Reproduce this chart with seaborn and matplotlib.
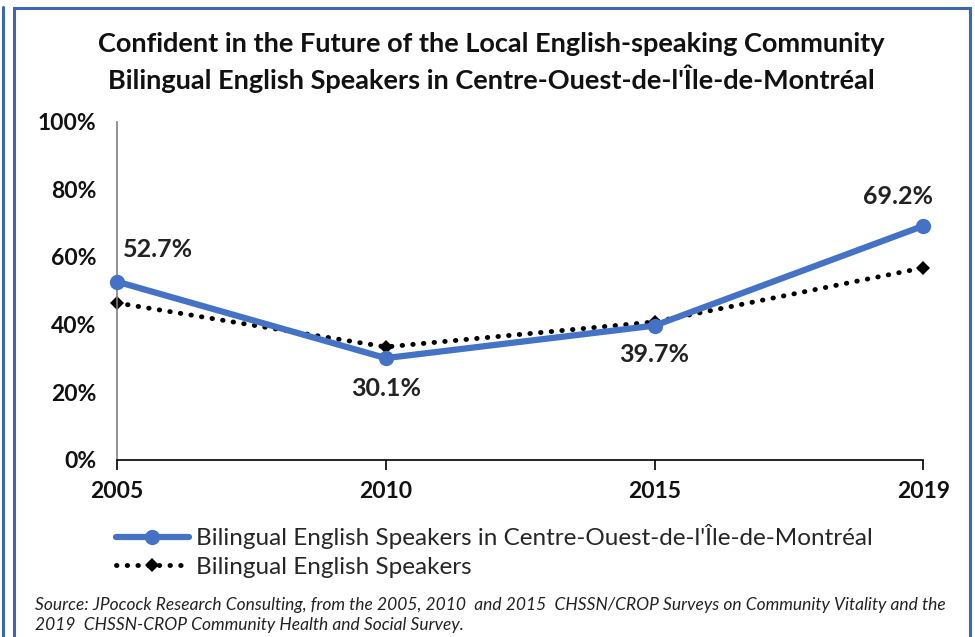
import matplotlib
matplotlib.use("Agg")
import matplotlib.pyplot as plt
import seaborn as sns
import pandas as pd
from matplotlib.patches import Rectangle
from matplotlib.lines import Line2D

# Data
years = ["2005", "2010", "2015", "2019"]
local_vals = [52.7, 30.1, 39.7, 69.2]
all_vals = [46.4, 33.4, 40.8, 56.8]
local_name = "Bilingual English Speakers in Centre-Ouest-de-l'Île-de-Montréal"
all_name = "Bilingual English Speakers"
title = ("Confident in the Future of the Local English-speaking Community\n"
         "Bilingual English Speakers in Centre-Ouest-de-l'Île-de-Montréal")
source = ("Source: JPocock Research Consulting, from the 2005, 2010  and 2015  CHSSN/CROP Surveys on Community Vitality and the\n"
          "2019  CHSSN-CROP Community Health and Social Survey.")

sns.set_style("white")
plt.rcParams["font.family"] = ["Lato", "DejaVu Sans"]

blue = "#4472C4"

fig = plt.figure(figsize=(9.75, 6.37), dpi=100)
ax = fig.add_axes([0.12, 0.278, 0.827, 0.531])

df_local = pd.DataFrame({"year": years, "value": local_vals})
df_all = pd.DataFrame({"year": years, "value": all_vals})

sns.lineplot(data=df_all, x="year", y="value", ax=ax, color="black",
             linewidth=3.5, linestyle=(0, (0.1, 2.1)), dash_capstyle="round",
             marker="D", markersize=7, markeredgewidth=0, zorder=2)
sns.lineplot(data=df_local, x="year", y="value", ax=ax, color=blue,
             linewidth=4.5, marker="o", markersize=11, markeredgewidth=0, zorder=3)

# data labels
offsets = [(0.153, 9.4), (0, -9.1), (0, -8.6), (-0.093, 8.6)]
for i, (v, (dx, dy)) in enumerate(zip(local_vals, offsets)):
    ax.text(i + dx, v + dy, f"{v:.1f}%", ha="center", va="center",
            fontsize=18, fontweight="bold", color="#222222")

ax.set_xlim(0, len(years) - 1)
ax.set_ylim(0, 100)
ax.set_yticks(range(0, 101, 20))
ax.set_yticklabels([f"{t}%" for t in range(0, 101, 20)])
ax.set_xlabel("")
ax.set_ylabel("")
for lab in ax.get_xticklabels() + ax.get_yticklabels():
    lab.set_fontweight("bold")
    lab.set_fontsize(16.5)
    lab.set_color("#111111")
ax.tick_params(axis="x", direction="out", length=7, width=1.2, color="black", pad=8, bottom=True)
ax.tick_params(axis="y", length=0, pad=15)
for s in ["top", "right"]:
    ax.spines[s].set_visible(False)
ax.spines["left"].set_color("#7f7f7f")
ax.spines["left"].set_linewidth(1.2)
ax.spines["bottom"].set_color("black")
ax.spines["bottom"].set_linewidth(1.2)
for ln in ax.lines:
    ln.set_clip_on(False)

fig.text(0.504, 0.902, title, ha="center", va="center", fontsize=19.5,
         fontweight="bold", linespacing=1.35, color="#111111")

handles = [
    Line2D([], [], color=blue, linewidth=4.5, marker="o", markersize=11, markeredgewidth=0),
    Line2D([], [], color="black", linewidth=3.5, linestyle=(0, (0.1, 2.1)),
           dash_capstyle="round", marker="D", markersize=7, markeredgewidth=0),
]
fig.legend(handles, [local_name, all_name], loc="upper left",
           bbox_to_anchor=(0.119, 0.177), frameon=False, fontsize=17.5,
           handlelength=3.0, handletextpad=0.3, labelspacing=0.3,
           borderpad=0, borderaxespad=0)

fig.text(0.036, 0.0345, source, ha="left", va="center", fontsize=12.5,
         style="italic", color="#222222", linespacing=1.35)

# frame borders
frame_col = "#3f67ad"
fig.add_artist(Rectangle((13.5 / 975, -0.05), (970 - 13.5) / 975, 1.05 - 7.5 / 637,
                         transform=fig.transFigure, fill=False,
                         edgecolor=frame_col, linewidth=2.2))
fig.add_artist(Line2D([2.5 / 975, 2.5 / 975], [0, 1 - 7 / 637],
                      transform=fig.transFigure, color=frame_col, linewidth=2.2))

fig.savefig("out.png", dpi=100)
